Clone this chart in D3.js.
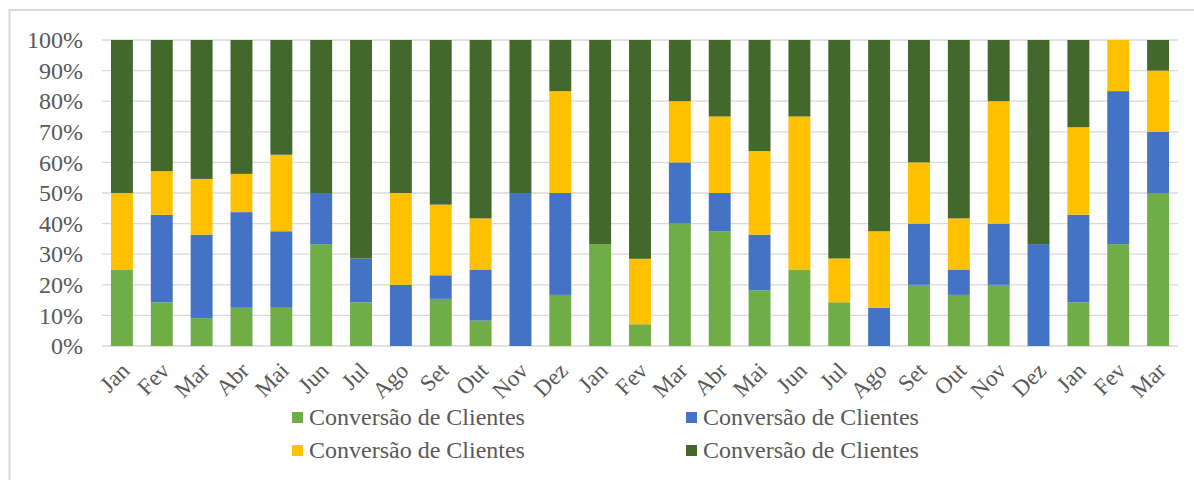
<html>

<head>
    <style>
        body {
          margin: 0;
          background: white;
        }
        text {
          font-family: "Liberation Serif", "Times New Roman", serif;
          fill: #595959;
        }
    </style>
</head>

<body>
    <svg id="container" height="480" width="1194"></svg>
</body>
<script src="https://cdn.jsdelivr.net/npm/d3@7"></script>
<script>
    // months, two years plus a quarter
    const months = ["Jan", "Fev", "Mar", "Abr", "Mai", "Jun", "Jul", "Ago", "Set", "Out", "Nov", "Dez",
                    "Jan", "Fev", "Mar", "Abr", "Mai", "Jun", "Jul", "Ago", "Set", "Out", "Nov", "Dez",
                    "Jan", "Fev", "Mar"]

    // shares in %, bottom to top
    const serie1 = [25, 14.3, 9.1, 12.5, 12.5, 33.3, 14.3, 0, 15.4, 8.3, 0, 16.7,
                    33.3, 7.1, 40, 37.5, 18.2, 25, 14.3, 0, 20, 16.7, 20, 0,
                    14.3, 33.3, 50]
    const serie2 = [0, 28.6, 27.3, 31.25, 25, 16.7, 14.3, 20, 7.7, 16.7, 50, 33.3,
                    0, 0, 20, 12.5, 18.2, 0, 0, 12.5, 20, 8.3, 20, 33.3,
                    28.6, 50, 20]
    const serie3 = [25, 14.3, 18.2, 12.5, 25, 0, 0, 30, 23.1, 16.7, 0, 33.3,
                    0, 21.4, 20, 25, 27.3, 50, 14.3, 25, 20, 16.7, 40, 0,
                    28.6, 16.7, 20]
    const serie4 = [50, 42.9, 45.4, 43.75, 37.5, 50, 71.4, 50, 53.8, 58.3, 50, 16.7,
                    66.7, 71.5, 20, 25, 36.3, 25, 71.4, 62.5, 40, 58.3, 20, 66.7,
                    28.5, 0, 10]

    const seriesNames = ["Conversão de Clientes", "Conversão de Clientes", "Conversão de Clientes", "Conversão de Clientes"]
    const colors = ["#70ad47", "#4472c4", "#ffc000", "#43682b"]
    const yTicks = [0, 0.1, 0.2, 0.3, 0.4, 0.5, 0.6, 0.7, 0.8, 0.9, 1]

    const serif = "'Liberation Serif', 'Times New Roman', serif"

    let rows = months.map((m, i) => ({ i: i, s0: serie1[i], s1: serie2[i], s2: serie3[i], s3: serie4[i] }))

    let stack = d3.stack()
        .keys(["s0", "s1", "s2", "s3"])
        .offset(d3.stackOffsetExpand)
    let stacked = stack(rows)

    let svg = d3.select("#container")

    // outer frame
    svg.append("rect")
        .attr("x", 9.5).attr("y", 10)
        .attr("width", 1300).attr("height", 600)
        .attr("fill", "none")
        .attr("stroke", "#d9d9d9")
        .attr("stroke-width", 2)

    let x = d3.scaleBand()
        .domain(d3.range(months.length))
        .range([102, 1178])
        .paddingInner(0.45)
        .paddingOuter(0.225)

    let y = d3.scaleLinear()
        .domain([0, 1])
        .range([346, 40])

    // grid
    svg.append("g").selectAll("line").data(yTicks)
        .enter().append("line")
        .attr("x1", 102).attr("x2", 1178)
        .attr("y1", d => y(d)).attr("y2", d => y(d))
        .attr("stroke", "#d9d9d9")
        .attr("stroke-width", 1.3)

    // y axis labels
    let yAxis = svg.append("g")
        .attr("transform", "translate(102,0)")
        .call(d3.axisLeft(y).tickValues(yTicks).tickFormat(d3.format(".0%")).tickSize(0).tickPadding(19))
        .attr("font-family", serif)
        .attr("font-size", 24)
    yAxis.select(".domain").remove()
    yAxis.selectAll("text")
        .attr("fill", "#595959")

    // bars
    svg.append("g").selectAll("g").data(stacked)
        .enter().append("g")
        .attr("fill", (d, k) => colors[k])
        .selectAll("rect").data(d => d)
        .enter().append("rect")
        .attr("x", d => x(d.data.i))
        .attr("width", x.bandwidth())
        .attr("y", d => y(d[1]))
        .attr("height", d => y(d[0]) - y(d[1]))

    // x axis labels
    let xAxis = svg.append("g")
        .attr("transform", "translate(0,346)")
        .call(d3.axisBottom(x).tickFormat(i => months[i]).tickSize(0))
        .attr("font-family", serif)
        .attr("font-size", 23)
    xAxis.select(".domain").remove()
    xAxis.selectAll("text")
        .attr("fill", "#595959")
        .attr("text-anchor", "end")
        .attr("x", 0).attr("y", 0).attr("dy", 0)
        .attr("transform", "translate(9,26) rotate(-45)")

    // legend, 2 x 2
    let legend = svg.append("g").selectAll("g").data(seriesNames)
        .enter().append("g")
        .attr("transform", (d, k) => "translate(" + (k % 2 == 0 ? 292 : 686) + "," + (k < 2 ? 425 : 458) + ")")
    // order in picture: light green, blue / yellow, dark green
    legend.append("rect")
        .attr("x", 0).attr("y", -13)
        .attr("width", 11).attr("height", 11)
        .attr("fill", (d, k) => colors[k])
    legend.append("text")
        .attr("x", 17).attr("y", 0)
        .attr("font-family", serif)
        .attr("font-size", 24)
        .text(d => d)
</script>

</html>
